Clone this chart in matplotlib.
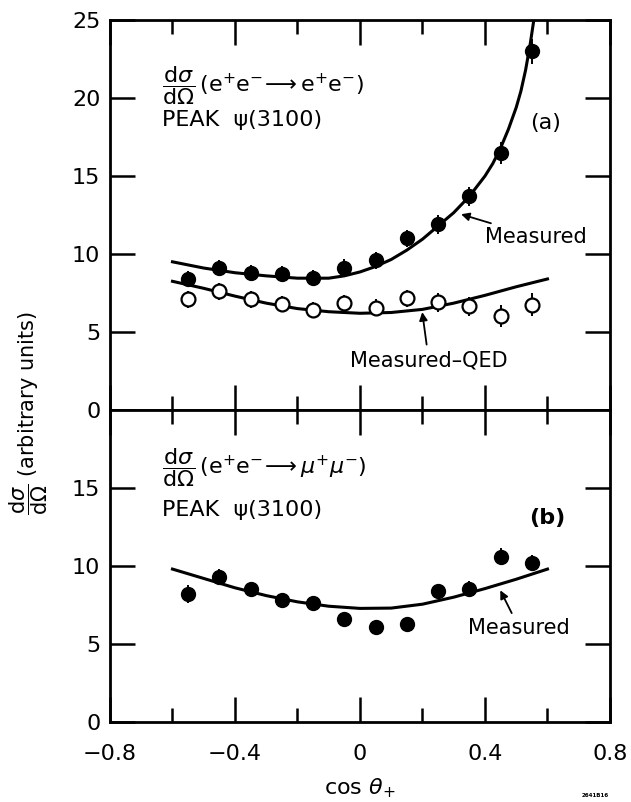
import matplotlib
matplotlib.use('Agg')
import matplotlib.pyplot as plt
import numpy as np

# bin centres in cos(theta+)
cos_bins = [-0.55, -0.45, -0.35, -0.25, -0.15, -0.05, 0.05, 0.15, 0.25, 0.35, 0.45, 0.55]

# (a) e+e- -> e+e-
ee_measured = [8.4, 9.1, 8.8, 8.7, 8.45, 9.1, 9.6, 11.0, 11.9, 13.7, 16.5, 23.0]
ee_measured_err = [0.5, 0.5, 0.5, 0.5, 0.5, 0.55, 0.55, 0.55, 0.6, 0.6, 0.7, 0.8]
ee_minus_qed = [7.1, 7.6, 7.1, 6.8, 6.4, 6.85, 6.55, 7.15, 6.9, 6.65, 6.0, 6.75]
ee_minus_qed_err = [0.55, 0.55, 0.55, 0.5, 0.5, 0.55, 0.55, 0.55, 0.6, 0.6, 0.7, 0.75]

# fitted curves
fit_x = [-0.6, -0.5, -0.4, -0.3, -0.2, -0.1, -0.05, 0.0, 0.05, 0.1, 0.15, 0.2,
         0.25, 0.3, 0.35, 0.4, 0.425, 0.45, 0.475, 0.5, 0.515, 0.53, 0.545, 0.56]
ee_fit = [9.5, 9.1, 8.8, 8.6, 8.45, 8.45, 8.6, 8.85, 9.2, 9.65, 10.25, 10.95,
          11.8, 12.65, 13.7, 15.0, 15.8, 16.8, 18.0, 19.4, 20.45, 21.8, 23.5, 25.5]
qed_x = [-0.6, -0.5, -0.4, -0.3, -0.2, -0.1, 0.0, 0.1, 0.2, 0.3, 0.4, 0.5, 0.6]
qed_fit = [8.25, 7.8, 7.3, 6.85, 6.5, 6.3, 6.2, 6.25, 6.45, 6.85, 7.35, 7.9, 8.4]

# (b) e+e- -> mu+mu-
mumu_measured = [8.2, 9.3, 8.5, 7.8, 7.6, 6.6, 6.1, 6.3, 8.4, 8.55, 10.6, 10.2]
mumu_err = [0.55, 0.5, 0.5, 0.45, 0.4, 0.3, 0.3, 0.3, 0.45, 0.5, 0.55, 0.5]
mumu_fit = [9.8, 9.2, 8.6, 8.1, 7.7, 7.42, 7.28, 7.3, 7.55, 8.0, 8.55, 9.15, 9.8]

plt.rcParams['font.family'] = 'DejaVu Sans'
plt.rcParams['mathtext.fontset'] = 'dejavusans'

fig = plt.figure(figsize=(6.31, 8.02), dpi=100)
ax1 = fig.add_axes([0.1743, 0.4888, 0.7924, 0.4862])
ax2 = fig.add_axes([0.1743, 0.0998, 0.7924, 0.3890], sharex=ax1)

lw = 2.0
for ax in (ax1, ax2):
    for sp in ax.spines.values():
        sp.set_linewidth(lw)
    ax.set_xlim(-0.8, 0.8)
    ax.set_xticks([-0.8, -0.4, 0, 0.4, 0.8])
    ax.set_xticks([-0.6, -0.2, 0.2, 0.6], minor=True)
    ax.tick_params(axis='both', which='major', direction='in', length=18, width=1.8,
                   top=True, right=True, labelsize=16, pad=7)
    ax.tick_params(axis='x', which='minor', direction='in', length=10, width=1.8,
                   top=True, bottom=True)

ax1.set_ylim(0, 25)
ax1.set_yticks([0, 5, 10, 15, 20, 25])
ax1.tick_params(axis='x', labelbottom=False)
ax2.set_ylim(0, 20)
ax2.set_yticks([0, 5, 10, 15])
ax2.set_xticklabels(['\u22120.8', '\u22120.4', '0', '0.4', '0.8'])
ax2.tick_params(axis='x', which='major', pad=16)

ax1.plot(fit_x, ee_fit, color='black', lw=2.2, zorder=2)
ax1.plot(qed_x, qed_fit, color='black', lw=2.2, zorder=2)
ax1.errorbar(cos_bins, ee_measured, yerr=ee_measured_err, fmt='o', color='black',
             ms=10, elinewidth=1.4, capsize=0, zorder=3)
ax1.errorbar(cos_bins, ee_minus_qed, yerr=ee_minus_qed_err, fmt='o', color='black',
             mfc='white', mec='black', mew=1.6, ms=10, elinewidth=1.4, capsize=0, zorder=3)

ax2.plot(qed_x, mumu_fit, color='black', lw=2.2, zorder=2)
ax2.errorbar(cos_bins, mumu_measured, yerr=mumu_err, fmt='o', color='black',
             ms=10, elinewidth=1.4, capsize=0, zorder=3)

# labels inside panels
ax1.text(-0.635, 20.8, r'$\dfrac{\mathrm{d}\sigma}{\mathrm{d}\Omega}\,(\mathrm{e}^{+}\mathrm{e}^{-}\!\longrightarrow\mathrm{e}^{+}\mathrm{e}^{-})$',
         fontsize=16, va='center', ha='left')
ax1.text(-0.635, 18.6, 'PEAK  \u03c8(3100)', fontsize=16, va='center', ha='left')
ax1.text(0.545, 18.4, '(a)', fontsize=16, va='center', ha='left')

ax2.text(-0.635, 16.3, r'$\dfrac{\mathrm{d}\sigma}{\mathrm{d}\Omega}\,(\mathrm{e}^{+}\mathrm{e}^{-}\!\longrightarrow\mu^{+}\mu^{-})$',
         fontsize=16, va='center', ha='left')
ax2.text(-0.635, 13.6, 'PEAK  \u03c8(3100)', fontsize=16, va='center', ha='left')
ax2.text(0.54, 13.1, '(b)', fontsize=16, va='center', ha='left', fontweight='bold')

arrow = dict(arrowstyle='-|>', color='black', lw=1.3, mutation_scale=12)
ax1.annotate('Measured', xy=(0.315, 12.6), xytext=(0.40, 11.1), fontsize=15,
             va='center', ha='left', arrowprops=arrow)
ax1.annotate('Measured\u2013QED', xy=(0.198, 6.45), xytext=(0.22, 3.2), fontsize=15,
             va='center', ha='center', arrowprops=arrow)
ax2.annotate('Measured', xy=(0.445, 8.6), xytext=(0.51, 6.0), fontsize=15,
             va='center', ha='center', arrowprops=arrow)

fig.text(0.045, 0.485, r'$\dfrac{\mathrm{d}\sigma}{\mathrm{d}\Omega}$ (arbitrary units)',
         rotation=90, fontsize=15, va='center', ha='center')
fig.text(0.57, 0.003, r'$\cos\,\theta_{+}$', fontsize=16, ha='center', va='bottom')
fig.text(0.965, 0.005, '2641B16', fontsize=4, ha='right', va='bottom', fontweight='bold')

fig.savefig('out.png', dpi=100)
